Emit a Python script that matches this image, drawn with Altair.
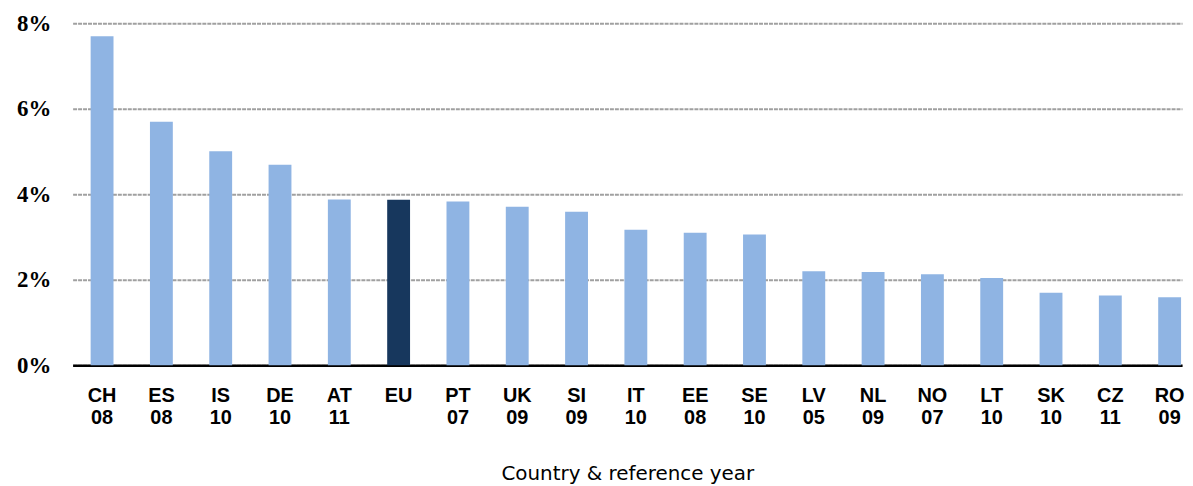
import altair as alt
import pandas as pd

countries = ["CH", "ES", "IS", "DE", "AT", "EU", "PT", "UK", "SI", "IT",
             "EE", "SE", "LV", "NL", "NO", "LT", "SK", "CZ", "RO"]
years = ["08", "08", "10", "10", "11", "", "07", "09", "09", "10",
         "08", "10", "05", "09", "07", "10", "10", "11", "09"]
values = [7.70, 5.70, 5.01, 4.69, 3.88, 3.87, 3.83, 3.71, 3.59, 3.17,
          3.10, 3.06, 2.20, 2.18, 2.13, 2.04, 1.70, 1.63, 1.59]
y_ticks = [0, 2, 4, 6, 8]

df = pd.DataFrame({"country": countries, "year": years, "value": values})
df["label"] = df["country"] + "|" + df["year"]
df["group"] = ["EU" if c == "EU" else "Country" for c in countries]

chart = alt.Chart(df).mark_bar().encode(
    x=alt.X(
        "label:N", sort=None, title="Country & reference year",
        scale=alt.Scale(paddingInner=0.6145, paddingOuter=0.16, align=0.95),
        axis=alt.Axis(
            labelExpr="split(datum.label, '|')", labelAngle=0,
            labelFont="Liberation Sans", labelFontWeight="bold", labelFontSize=20,
            labelLineHeight=22.5, labelPadding=20, labelColor="black",
            ticks=False, tickSize=0, grid=False,
            domainColor="black", domainWidth=2.5,
            titleFont="DejaVu Sans", titleFontSize=20, titleFontWeight="normal",
            titleColor="black", titlePadding=36,
        ),
    ),
    y=alt.Y(
        "value:Q",
        scale=alt.Scale(domain=[0, 8], nice=False),
        axis=alt.Axis(
            values=y_ticks, labelExpr="datum.value + '%'", title=None,
            domain=False, ticks=False, tickSize=0,
            labelFont="Liberation Serif", labelFontWeight="bold", labelFontSize=23,
            labelPadding=22, labelColor="black",
            gridColor="#a0a0a0", gridDash=[4, 1], gridWidth=2,
        ),
    ),
    color=alt.Color(
        "group:N",
        scale=alt.Scale(domain=["Country", "EU"], range=["#8FB4E3", "#17375D"]),
        legend=None,
    ),
).properties(
    width=1116, height=344,
    padding={"left": 8, "top": 3, "right": 0, "bottom": 0},
).configure_view(stroke=None)

chart.save("out.html", embed_options={"renderer": "svg", "actions": False})
